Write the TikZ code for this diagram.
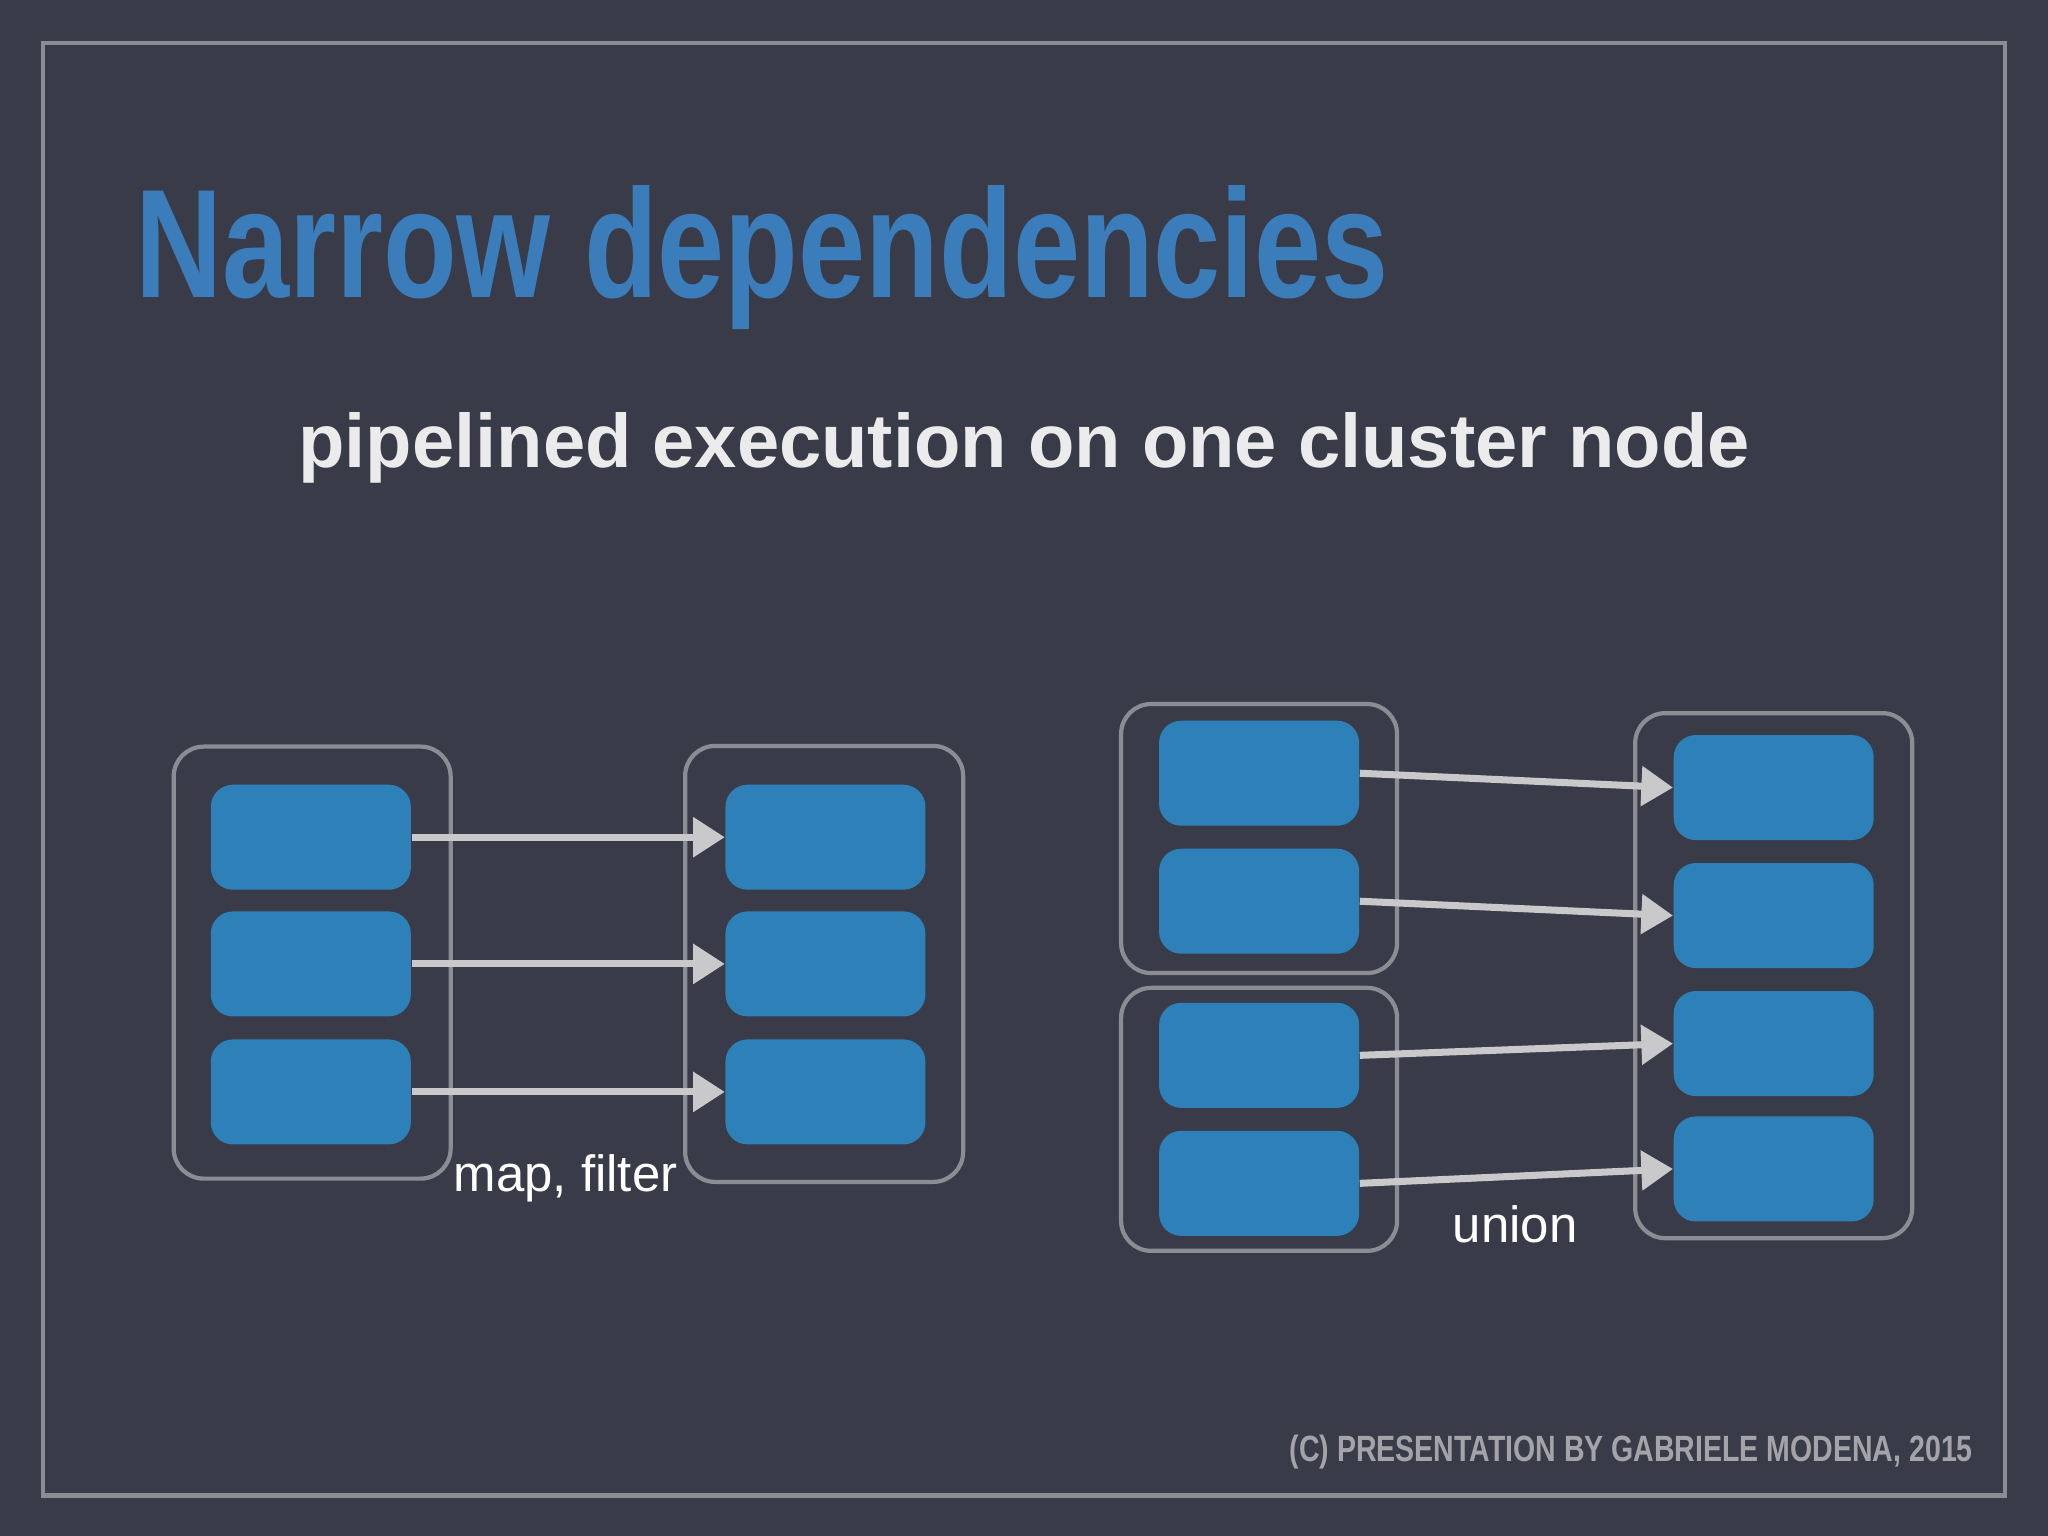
\documentclass[tikz,border=0pt]{standalone}
\usepackage{fontspec}
\setmainfont{Liberation Sans}
\newfontfamily\condfont[FakeStretch=0.78]{Liberation Sans}
\usetikzlibrary{arrows.meta, positioning}
\definecolor{slidebg}{HTML}{3A3B48}
\definecolor{titleblue}{HTML}{3A7DBA}
\definecolor{partblue}{HTML}{2E80B9}
\definecolor{framegray}{HTML}{8C8C94}
\definecolor{arrowgray}{HTML}{C9C9CC}
\tikzset{
	part/.style={fill=partblue, rounded corners=0.22cm, minimum width=2cm, minimum height=1.05cm},
	box/.style={draw=framegray, line width=1.2pt, rounded corners=0.3cm},
	dep/.style={draw=arrowgray, line width=2pt, -{Triangle[length=9pt,width=11pt]}},
	lbl/.style={text=white, font=\fontsize{14.5}{17}\selectfont}
}
\begin{document}
\begin{tikzpicture}[x=0.01306cm, y=-0.01306cm]
		\fill[slidebg] (0,0) rectangle (1568,1176);
		\useasboundingbox (0,0) rectangle (1568,1176);
		\draw[framegray, line width=1.3pt] (33,33) rectangle (1535,1145);
		
		\node[anchor=base west, inner sep=0, text=titleblue] (title) at (103,228)
			{\condfont\bfseries\fontsize{44}{50}\selectfont Narrow dependencies};
		\node[anchor=base, inner sep=0, text=white!92!black] (subtitle) at (784,358)
			{\bfseries\fontsize{21.6}{26}\selectfont pipelined execution on one cluster node};
		\node[anchor=base east, inner sep=0, text=framegray!80!white] (credit) at (1511,1119)
			{\condfont\bfseries\fontsize{10.4}{13}\selectfont (C) PRESENTATION BY GABRIELE MODENA, 2015};
		
		% map, filter
		\node[box, minimum width=2.77cm, minimum height=4.32cm] (mapin) at (239,737) {};
		\node[box, minimum width=2.78cm, minimum height=4.36cm] (mapout) at (631,738) {};
		\node[part] (in1) at (238,641) {};
		\node[part] (in2) at (238,738) {};
		\node[part] (in3) at (238,836) {};
		\node[part] (out1) at (632,641) {};
		\node[part] (out2) at (632,738) {};
		\node[part] (out3) at (632,836) {};
		\draw[dep] (in1.east) -- (out1.west);
		\draw[dep] (in2.east) -- (out2.west);
		\draw[dep] (in3.east) -- (out3.west);
		\node[lbl] (maplabel) at (433,902) {map, filter};
		
		% union
		\node[box, minimum width=2.76cm, minimum height=2.69cm] (unina) at (964,642) {};
		\node[box, minimum width=2.76cm, minimum height=2.63cm] (uninb) at (964,857) {};
		\node[box, minimum width=2.77cm, minimum height=5.25cm] (unout) at (1358,747) {};
		\node[part] (ua1) at (964,592) {};
		\node[part] (ua2) at (964,690) {};
		\node[part] (ub1) at (964,808) {};
		\node[part] (ub2) at (964,906) {};
		\node[part] (uo1) at (1358,603) {};
		\node[part] (uo2) at (1358,701) {};
		\node[part] (uo3) at (1358,799) {};
		\node[part] (uo4) at (1358,895) {};
		\draw[dep] (ua1.east) -- (uo1.west);
		\draw[dep] (ua2.east) -- (uo2.west);
		\draw[dep] (ub1.east) -- (uo3.west);
		\draw[dep] (ub2.east) -- (uo4.west);
		\node[lbl] (unionlabel) at (1160,937) {union};
\end{tikzpicture}
\end{document}
